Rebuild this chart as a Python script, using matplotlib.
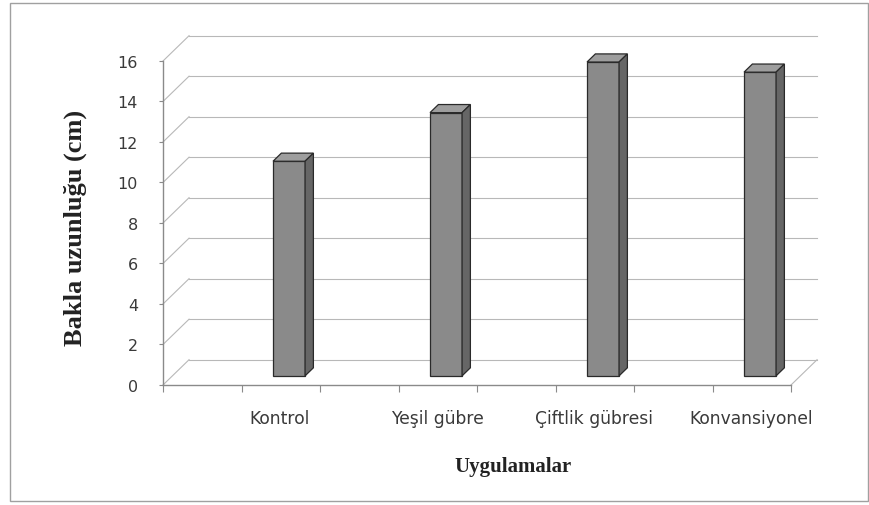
"""
Graphique en barres 3D (style Excel) : longueur de bakla selon les applications
"""

import numpy as np
import matplotlib.pyplot as plt
from matplotlib.patches import Polygon, Rectangle

# Donnees
uygulamalar = ['Kontrol', 'Yeşil gübre', 'Çiftlik gübresi', 'Konvansiyonel']
bakla_uzunlugu = [10.6, 13.0, 15.5, 15.0]
y_ticks = [0, 2, 4, 6, 8, 10, 12, 14, 16]

# Effet de profondeur (unites des donnees)
DX = 0.166      # decalage horizontal du mur du fond
DY = 1.25       # decalage vertical du mur du fond
F0, F1 = 0.36, 0.68   # profondeur avant / arriere des barres
BAR_W = 0.204
BAR_OFF = 0.243


def dessiner_murs(ax):
    """Mur du fond, mur gauche et sol avec les lignes de grille"""
    grid = dict(color='#b8b8b8', lw=0.8, zorder=1)
    x0, x1 = -0.5, len(uygulamalar) - 0.5
    for v in y_ticks:
        # ligne du fond
        ax.plot([x0 + DX, x1 + DX], [v + DY, v + DY], **grid)
        # diagonale du mur gauche
        ax.plot([x0, x0 + DX], [v, v + DY], **grid)
    # sol : diagonale de droite
    ax.plot([x1, x1 + DX], [0, DY], **grid)


def dessiner_barres(ax):
    """Barres avec face avant, dessus et cote"""
    x = np.arange(len(uygulamalar)) + BAR_OFF
    vals = np.array(bakla_uzunlugu)
    edge = '#2a2a2a'

    # face avant
    ax.bar(x + F0 * DX, vals, width=BAR_W, bottom=F0 * DY,
           color='#8a8a8a', edgecolor=edge, linewidth=0.9, zorder=3)

    ddx = (F1 - F0) * DX
    ddy = (F1 - F0) * DY
    for xi, v in zip(x, vals):
        left = xi + F0 * DX - BAR_W / 2
        right = left + BAR_W
        bot = F0 * DY
        top = v + F0 * DY
        # dessus
        ax.add_patch(Polygon([(left, top), (right, top), (right + ddx, top + ddy),
                              (left + ddx, top + ddy)], closed=True,
                             facecolor='#9e9e9e', edgecolor=edge, lw=0.9, zorder=3))
        # cote droit
        ax.add_patch(Polygon([(right, bot), (right + ddx, bot + ddy),
                              (right + ddx, top + ddy), (right, top)], closed=True,
                             facecolor='#666666', edgecolor=edge, lw=0.9, zorder=3))


def main():
    fig = plt.figure(figsize=(8.7, 5.06), dpi=100)

    # Cadre du graphique
    fig.patches.append(Rectangle((10 / 870, 4 / 506), 858 / 870, 498 / 506,
                                 transform=fig.transFigure, fill=False,
                                 edgecolor='#a0a0a0', lw=1))

    # Axes places pour que x=-0.5 -> 163 px, y=0 -> 386 px
    ax = fig.add_axes([120 / 870, (506 - 440) / 506, 720 / 870, 420 / 506])
    ax.set_xlim(-0.7739, 3.812)
    ax.set_ylim(-2.667, 18.074)
    ax.patch.set_alpha(0)

    dessiner_murs(ax)
    dessiner_barres(ax)

    # Axes avant
    for s in ['top', 'right']:
        ax.spines[s].set_visible(False)
    ax.spines['left'].set_position(('data', -0.5))
    ax.spines['left'].set_bounds(0, max(y_ticks))
    ax.spines['bottom'].set_position(('data', 0))
    ax.spines['bottom'].set_bounds(-0.5, len(uygulamalar) - 0.5)
    for s in ['left', 'bottom']:
        ax.spines[s].set_color('#8a8a8a')
        ax.spines[s].set_linewidth(1)

    ax.set_yticks(y_ticks)
    ax.set_yticklabels([str(v) for v in y_ticks], fontsize=11.5, color='#3a3a3a')
    ax.set_xticks(np.arange(-0.5, len(uygulamalar), 0.5))
    ax.set_xticklabels([])
    ax.tick_params(axis='y', length=3, pad=15, color='#8a8a8a')
    ax.tick_params(axis='x', length=5, color='#8a8a8a')

    # Libelles des categories
    for i, lab in enumerate(uygulamalar):
        ax.text(i + 0.245, -1.63, lab, ha='center', va='center',
                fontsize=12.3, color='#3a3a3a')

    # Titres des axes
    fig.text(75 / 870, 1 - 228 / 506, 'Bakla uzunluğu (cm)', rotation=90,
             ha='center', va='center', family='Liberation Serif',
             fontweight='bold', fontsize=19, color='#222222')
    fig.text(513 / 870, 1 - 467 / 506, 'Uygulamalar', ha='center', va='center',
             family='Liberation Serif', fontweight='bold', fontsize=15,
             color='#222222')

    fig.savefig('out.png', dpi=100)
    plt.close(fig)


if __name__ == "__main__":
    main()
